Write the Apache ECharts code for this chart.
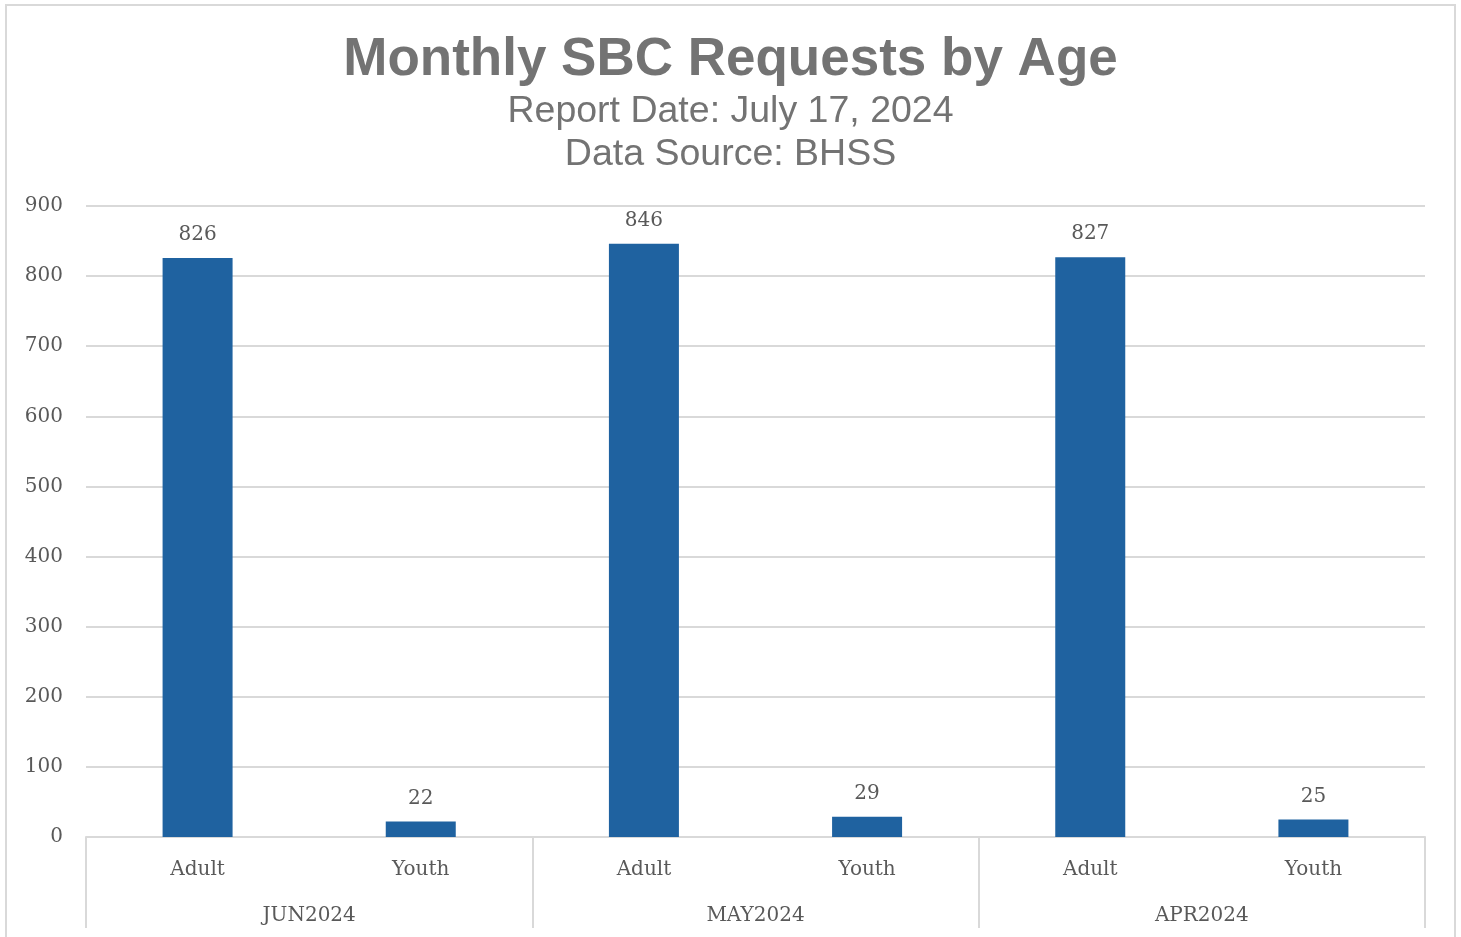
<!DOCTYPE html>
<html>
<head>
<meta charset="utf-8">
<title>Monthly SBC Requests by Age</title>
<script src="https://cdn.jsdelivr.net/npm/echarts@6/dist/echarts.min.js"></script>
<style>
  html, body { margin: 0; padding: 0; background: #fff; }
  #main { width: 1461px; height: 937px; }
</style>
</head>
<body>
<div id="main"></div>
<script>
var months = ['JUN2024', 'MAY2024', 'APR2024'];
var ageGroups = ['Adult', 'Youth'];
var adultValues = [826, 846, 827];
var youthValues = [22, 29, 25];

// flatten into Adult, Youth per month
var categories = [];
var values = [];
for (var i = 0; i < months.length; i++) {
  categories.push(ageGroups[0], ageGroups[1]);
  values.push(adultValues[i], youthValues[i]);
}

var labelFont = 'DejaVu Serif';
var labelColor = '#595959';
var lineColor = '#d9d9d9';

var myChart = echarts.init(document.getElementById('main'));
var option = {
  backgroundColor: '#fff',
  animation: false,
  graphic: [
    {
      type: 'rect',
      shape: { x: 6, y: 5, width: 1449, height: 945 },
      style: { fill: 'none', stroke: lineColor, lineWidth: 2 },
      silent: true
    }
  ],
  title: [
    {
      text: 'Monthly SBC Requests by Age',
      left: 'center',
      top: 29,
      textStyle: {
        fontFamily: 'Liberation Sans',
        fontWeight: 'bold',
        fontSize: 53,
        color: '#737373'
      }
    },
    {
      text: 'Report Date: July 17, 2024\nData Source: BHSS',
      left: 'center',
      top: 85,
      textStyle: {
        fontFamily: 'Liberation Sans',
        fontWeight: 'normal',
        fontSize: 37.5,
        lineHeight: 43,
        color: '#737373'
      }
    }
  ],
  grid: {
    left: 86,
    right: 36,
    top: 206,
    bottom: 100,
    containLabel: false
  },
  xAxis: [
    {
      type: 'category',
      data: categories,
      position: 'bottom',
      axisLine: { show: false },
      axisTick: { show: false },
      axisLabel: {
        interval: 0,
        margin: 23,
        fontFamily: labelFont,
        fontSize: 20,
        color: labelColor
      }
    },
    {
      type: 'category',
      data: months,
      position: 'bottom',
      offset: 0,
      axisLine: { show: true, lineStyle: { color: lineColor, width: 2 } },
      axisTick: { show: true, length: 91, lineStyle: { color: lineColor, width: 2 } },
      axisLabel: {
        interval: 0,
        margin: 69,
        fontFamily: labelFont,
        fontSize: 20,
        color: labelColor
      }
    }
  ],
  yAxis: {
    type: 'value',
    min: 0,
    max: 900,
    interval: 100,
    axisLine: { show: false },
    axisTick: { show: false },
    splitLine: { lineStyle: { color: lineColor, width: 2 } },
    axisLabel: {
      margin: 23,
      padding: [4, 0, 0, 0],
      fontFamily: labelFont,
      fontSize: 20,
      color: labelColor
    }
  },
  series: [
    {
      type: 'bar',
      xAxisIndex: 0,
      data: values,
      barWidth: 70,
      itemStyle: { color: '#1f62a0' },
      label: {
        show: true,
        position: 'top',
        distance: 13,
        fontFamily: labelFont,
        fontSize: 20,
        color: labelColor
      }
    }
  ]
};
myChart.setOption(option);
window.addEventListener('resize', function () {
  myChart.resize();
});
</script>
</body>
</html>
